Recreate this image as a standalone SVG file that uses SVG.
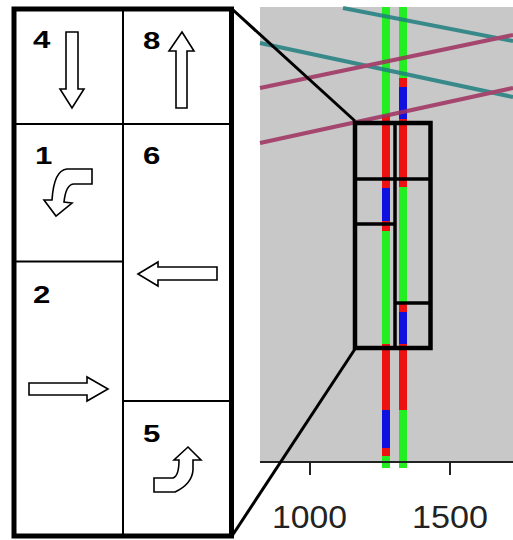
<svg xmlns="http://www.w3.org/2000/svg" width="513" height="540" viewBox="0 0 513 540">
<style>
.num{font-family:"Liberation Sans",Arial,sans-serif;font-weight:bold;font-size:24px;fill:#000}
.arr{fill:#fff;stroke:#000;stroke-width:1.6;stroke-linejoin:miter}
.cell{stroke:#000;stroke-width:2;fill:none}
.box{stroke:#000;fill:none}
.tick{font-family:"Liberation Sans",Arial,sans-serif;font-size:31px;fill:#222}
.g{stroke:#22ee22}
.r{stroke:#ee1111}
.b{stroke:#1010e0}
</style>
<rect width="513" height="540" fill="#fff"/>
<g id="plot">
  <rect x="260" y="7" width="253" height="455" fill="#c8c8c8"/>
  <g id="signals" stroke-width="8" fill="none">
    <line class="g" x1="386" y1="7" x2="386" y2="115"/>
    <line class="r" x1="386" y1="115" x2="386" y2="188"/>
    <line class="b" x1="386" y1="188" x2="386" y2="221"/>
    <line class="r" x1="386" y1="221" x2="386" y2="231"/>
    <line class="g" x1="386" y1="231" x2="386" y2="344"/>
    <line class="r" x1="386" y1="344" x2="386" y2="410"/>
    <line class="b" x1="386" y1="410" x2="386" y2="448"/>
    <line class="r" x1="386" y1="448" x2="386" y2="456"/>
    <line class="g" x1="386" y1="456" x2="386" y2="468"/>
    <line class="g" x1="403" y1="7" x2="403" y2="78"/>
    <line class="r" x1="403" y1="78" x2="403" y2="87"/>
    <line class="b" x1="403" y1="87" x2="403" y2="119"/>
    <line class="r" x1="403" y1="119" x2="403" y2="187"/>
    <line class="g" x1="403" y1="187" x2="403" y2="304"/>
    <line class="r" x1="403" y1="304" x2="403" y2="312"/>
    <line class="b" x1="403" y1="312" x2="403" y2="344"/>
    <line class="r" x1="403" y1="344" x2="403" y2="410"/>
    <line class="g" x1="403" y1="410" x2="403" y2="468"/>
  </g>
  <g id="traces" stroke-width="4" fill="none" opacity="0.85">
    <line x1="343" y1="8" x2="513" y2="41" stroke="#208080"/>
    <line x1="260" y1="43" x2="513" y2="97" stroke="#208080"/>
    <line x1="260" y1="88" x2="513" y2="35" stroke="#a03060"/>
    <line x1="260" y1="143" x2="513" y2="88" stroke="#a03060"/>
  </g>
  <g id="axis" stroke="#222" stroke-width="2">
    <line x1="260" y1="462" x2="513" y2="462"/>
    <line x1="310" y1="462" x2="310" y2="475"/>
    <line x1="450" y1="462" x2="450" y2="475"/>
  </g>
  <text class="tick" x="309.5" y="528" text-anchor="middle" textLength="75" lengthAdjust="spacingAndGlyphs">1000</text>
  <text class="tick" x="450" y="528" text-anchor="middle" textLength="76" lengthAdjust="spacingAndGlyphs">1500</text>
  <g id="zoombox">
    <rect class="box" x="355" y="123" width="75.5" height="225" stroke-width="4.5"/>
    <line class="box" x1="395" y1="123" x2="395" y2="348" stroke-width="3.5"/>
    <line class="box" x1="355" y1="179" x2="430.5" y2="179" stroke-width="3.5"/>
    <line class="box" x1="355" y1="224" x2="395" y2="224" stroke-width="3.5"/>
    <line class="box" x1="395" y1="303" x2="430.5" y2="303" stroke-width="3.5"/>
  </g>
</g>
<g id="connectors" stroke="#000" stroke-width="3" fill="none">
  <line x1="232" y1="9" x2="355" y2="121"/>
  <line x1="232" y1="536" x2="355" y2="349"/>
</g>
<g id="panel">
  <rect x="14" y="9" width="217.5" height="527" fill="#fff" stroke="#000" stroke-width="5"/>
  <line class="cell" x1="123" y1="9" x2="123" y2="536"/>
  <line class="cell" x1="14" y1="124" x2="231.5" y2="124"/>
  <line class="cell" x1="14" y1="261.5" x2="123" y2="261.5"/>
  <line class="cell" x1="123" y1="401" x2="231.5" y2="401"/>
  <g id="cell4">
    <text class="num" transform="translate(33,48) scale(1.3,1)">4</text>
    <path class="arr" d="M66,32 H78 V89 H84 L72,108 L60,89 H66 Z"/>
  </g>
  <g id="cell8">
    <text class="num" transform="translate(143,49) scale(1.3,1)">8</text>
    <path class="arr" d="M182,32 L194,51 H187 V108 H176 V51 H169 Z"/>
  </g>
  <g id="cell1">
    <text class="num" transform="translate(35,164) scale(1.3,1)">1</text>
    <path class="arr" d="M92,169 L67,169 Q54,170 52,200 L44,200 L56,216 L72,203 L64,202 Q66,184 74,184 L92,184 Z"/>
  </g>
  <g id="cell6">
    <text class="num" transform="translate(143,164) scale(1.3,1)">6</text>
    <path class="arr" d="M138,274 L158,262 V267 H217 V280 H158 V286 Z"/>
  </g>
  <g id="cell2">
    <text class="num" transform="translate(33,303) scale(1.3,1)">2</text>
    <path class="arr" d="M29,383 H87 V377 L108,389 L87,401 V395 H29 Z"/>
  </g>
  <g id="cell5">
    <text class="num" transform="translate(143,442) scale(1.3,1)">5</text>
    <path class="arr" d="M154,478 L173,478 Q179,476 179,460 L174,460 L188,447 L201,460 L193,460 L193,470 Q192,484 175,492 L154,492 Z"/>
  </g>
</g>
</svg>
